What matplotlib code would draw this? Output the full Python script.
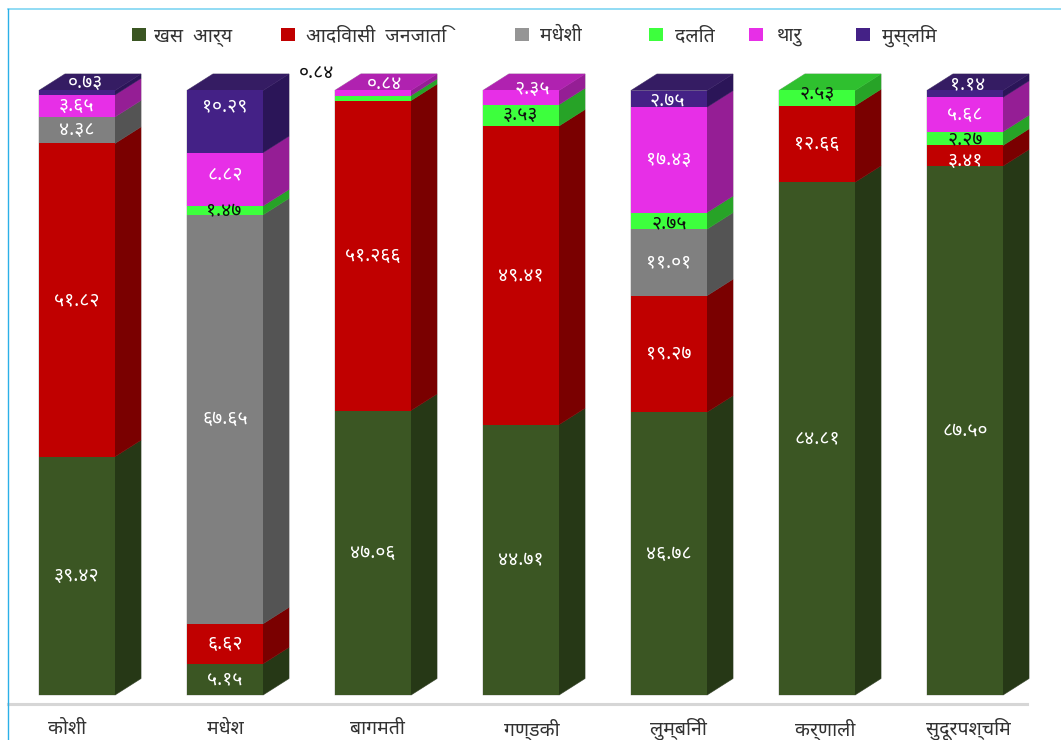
import matplotlib
matplotlib.use('Agg')
import matplotlib.pyplot as plt
from matplotlib.patches import Polygon, Rectangle
from matplotlib.lines import Line2D

plt.rcParams['font.family'] = ['Noto Sans', 'DejaVu Sans']

# Data (percent per province)
provinces = ['कोशी', 'मधेश', 'बागमती', 'गण्डकी', 'लुम्बिनी', 'कर्णाली', 'सुदूरपश्चिम']
groups = ['खस  आर्य', 'आदिवासी  जनजाति', 'मधेशी', 'दलित', 'थारु', 'मुस्लिम']
khas_arya = [39.42, 5.15, 47.06, 44.71, 46.78, 84.81, 87.50]
janajati = [51.82, 6.62, 51.266, 49.41, 19.27, 12.66, 3.41]
madhesi = [4.38, 67.65, 0, 0, 11.01, 0, 0]
dalit = [0, 1.47, 0.84, 3.53, 2.75, 2.53, 2.27]
tharu = [3.65, 8.82, 0.84, 2.35, 17.43, 0, 5.68]
muslim = [0.73, 10.29, 0, 0, 2.75, 0, 1.14]
series = [khas_arya, janajati, madhesi, dalit, tharu, muslim]

# front, side, top colours of each group
front_colors = ['#3b5623', '#c00000', '#808080', '#3dff3d', '#e72fe7', '#442186']
side_colors = ['#263816', '#7a0000', '#545454', '#27a327', '#951e95', '#2b1558']
top_colors = ['#3f5c26', '#cc0000', '#8a8a8a', '#2fc02f', '#b022b0', '#351c63']
legend_colors = ['#3b5623', '#c00000', '#959595', '#3dff3d', '#e72fe7', '#442186']
label_colors = ['white', 'white', 'white', '#111111', 'white', 'white']

W, H = 1061, 740
BASE_Y, TOP_Y = 695, 90.5
STEP = 148
BAR_PX, DX_PX, DY_PX = 76, 26, 16.5

fig = plt.figure(figsize=(W / 100, H / 100), dpi=100)
# axes: one category is 148 px wide, 100 % is the height of a full bar
ax = fig.add_axes([3 / W, (H - BASE_Y) / H, STEP * 7 / W, (BASE_Y - TOP_Y) / H])
ax.set_xlim(-0.5, 6.5)
ax.set_ylim(0, 100)
ax.axis('off')

bw = BAR_PX / STEP
dx = DX_PX / STEP
dy = DY_PX / (BASE_Y - TOP_Y) * 100


def devanagari(v):
    s = f'{v:.2f}' if round(v, 2) == v else str(v)
    return s.translate(str.maketrans('0123456789', '०१२३४५६७८९'))


# labels that the chart moved away from the middle of their block (pixels, up is positive)
label_shift = {(0, 5): (9, 10), (2, 4): (12, 9), (3, 4): (11, 9), (5, 3): (0, 4),
               (6, 5): (3, 10), (6, 1): (0, -5), (1, 3): (-1, -1), (6, 3): (0, -1),
               (4, 5): (-2, -1), (4, 3): (0, -2), (1, 5): (0, 15), (1, 4): (0, 5)}
# drawn outside the bar further down
outside_labels = [(2, 3)]

for i in range(len(provinces)):
    left = i - bw / 2
    bottom = 0
    last = 0
    for s, vals in enumerate(series):
        v = vals[i]
        if v == 0:
            continue
        ax.add_patch(Polygon([(left + bw, bottom), (left + bw + dx, bottom + dy),
                              (left + bw + dx, bottom + v + dy), (left + bw, bottom + v)],
                             facecolor=side_colors[s], edgecolor=side_colors[s], linewidth=0.3,
                             clip_on=False, zorder=2))
        ax.bar(i, v, width=bw, bottom=bottom, color=front_colors[s], linewidth=0, zorder=3)
        bottom += v
        last = s
    ax.add_patch(Polygon([(left, bottom), (left + dx, bottom + dy),
                          (left + bw + dx, bottom + dy), (left + bw, bottom)],
                         facecolor=top_colors[last], edgecolor=top_colors[last], linewidth=0.3,
                         clip_on=False, zorder=2))
    # thin pale outline round the whole box
    ax.add_patch(Polygon([(left, 0), (left + bw, 0), (left + bw + dx, dy),
                          (left + bw + dx, bottom + dy), (left + dx, bottom + dy), (left, bottom)],
                         facecolor='none', edgecolor='#c9c9c9', linewidth=0.8, clip_on=False, zorder=1))

    # value labels
    bottom = 0
    for s, vals in enumerate(series):
        v = vals[i]
        if v == 0:
            continue
        if (i, s) not in outside_labels:
            sx, sy = label_shift.get((i, s), (0, 0))
            ax.annotate(devanagari(v), (i, bottom + v / 2), xytext=(sx * 0.72, sy * 0.72),
                        textcoords='offset points', ha='center', va='center', fontsize=14,
                        color=label_colors[s], fontweight='bold' if s == 3 else 'normal',
                        annotation_clip=False, zorder=5)
        bottom += v

# the one label that sits outside its bar
fig.text(317 / W, 1 - 73 / H, devanagari(dalit[2]), ha='center', va='center', fontsize=14,
         fontweight='bold', color='#111111')

# legend
swatch_x = [132, 281, 515, 649, 749, 856]
legend_text_x = [154, 306, 540, 675, 777, 882]
for name, c, sw, tx in zip(groups, legend_colors, swatch_x, legend_text_x):
    fig.add_artist(Rectangle((sw / W, 1 - 40.5 / H), 14 / W, 12.5 / H, facecolor=c, edgecolor='none',
                             transform=fig.transFigure))
    fig.text(tx / W, 1 - 36 / H, name, ha='left', va='center', fontsize=14, color='#333333')

# province names
tick_x = [67.5, 225.5, 377, 532, 678, 825, 968]
for name, tx in zip(provinces, tick_x):
    fig.text(tx / W, 1 - 729 / H, name, ha='center', va='center', fontsize=14, color='#333333')

# baseline and outer frame
fig.add_artist(Line2D([8 / W, 1027 / W], [1 - 704 / H] * 2, color='#d6d6d6', linewidth=2.2))
fig.add_artist(Line2D([7.5 / W, 1], [1 - 9 / H] * 2, color='#7fd5f2', linewidth=1.2))
fig.add_artist(Line2D([7.5 / W] * 2, [0, 1 - 9 / H], color='#2bb0e8', linewidth=1.0))

fig.savefig('out.png', dpi=100)
